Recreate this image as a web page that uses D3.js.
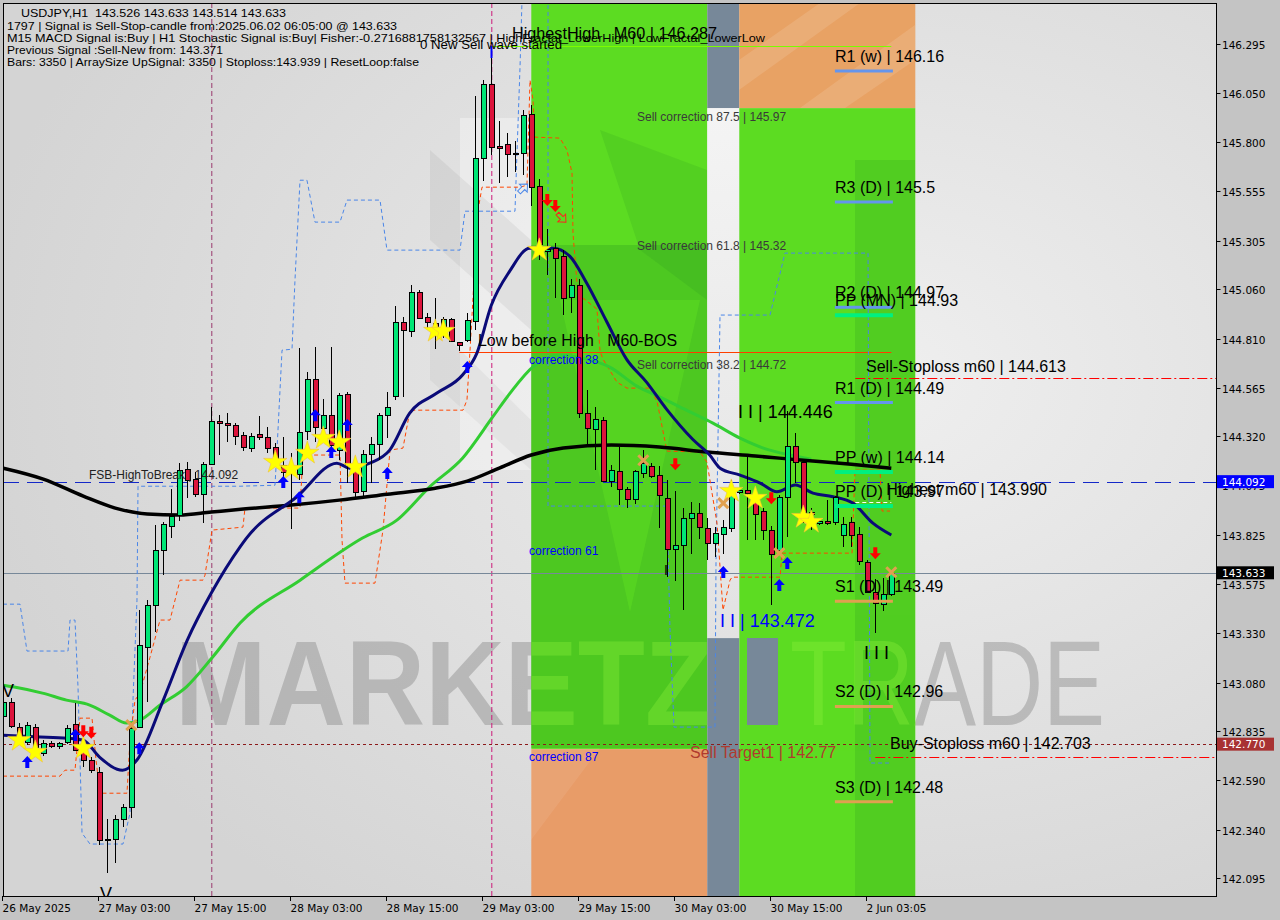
<!DOCTYPE html>
<html><head><meta charset="utf-8">
<script src="https://cdn.jsdelivr.net/npm/d3@7"></script>
<style>html,body{margin:0;padding:0;background:#c4c4c4;}svg{display:block}text{white-space:pre}</style>
</head><body>
<svg id="c" width="1280" height="920"></svg>
<script>
// ---------- DATA ----------
const symbol = "USDJPY,H1";
const timeLabels = ["26 May 2025","27 May 03:00","27 May 15:00","28 May 03:00","28 May 15:00","29 May 03:00","29 May 15:00","30 May 03:00","30 May 15:00","2 Jun 03:05"];
const timeLabelIdx = [0,12,24,36,48,60,72,84,96,108];
const priceTicks = [146.295,146.050,145.800,145.555,145.305,145.060,144.810,144.565,144.320,144.075,143.825,143.575,143.330,143.080,142.835,142.590,142.340,142.095];

const opens = [
142.911,142.982,142.857,142.782,142.857,142.726,142.777,142.757,142.777,142.871,
142.765,142.690,142.630,142.287,142.291,142.391,142.452,142.857,143.260,143.470,
143.744,143.870,143.923,144.154,144.103,144.028,144.180,144.397,144.388,144.377,
144.326,144.264,144.331,144.315,144.267,144.175,144.140,144.134,144.343,144.607,
144.363,144.430,144.251,144.531,144.167,144.041,144.229,144.280,144.427,144.519,
144.894,144.850,145.048,144.919,144.892,144.855,144.909,144.793,144.805,144.897,
145.724,146.096,145.780,145.790,145.744,145.746,145.942,145.580,145.252,145.268,
145.229,145.023,145.084,144.439,144.362,144.404,144.096,144.144,144.053,144.001,
144.140,144.173,144.124,144.011,143.754,143.774,143.908,143.934,143.860,143.781,
143.831,143.856,144.040,144.050,143.991,143.944,143.851,143.747,144.013,144.271,
144.192,143.940,143.882,143.892,143.885,143.821,143.890,143.826,143.688,143.534,
143.475,143.526];
const highs = [
143.000,143.002,142.875,142.882,142.872,142.790,142.787,142.782,142.866,142.977,
142.775,142.707,142.656,142.391,142.413,142.468,142.866,143.445,143.495,143.873,
143.890,144.054,144.187,144.192,144.140,144.192,144.469,144.427,144.438,144.387,
144.343,144.338,144.422,144.368,144.287,144.318,144.236,144.763,144.642,144.771,
144.506,144.768,144.536,144.541,144.184,144.251,144.318,144.436,144.541,144.976,
144.919,145.082,145.056,144.942,145.015,144.922,144.914,144.796,144.942,146.035,
146.114,146.287,145.908,145.850,145.807,145.965,145.990,145.614,145.364,145.296,
145.258,145.113,145.113,144.555,144.467,144.420,144.178,144.265,144.063,144.150,
144.250,144.188,144.169,144.100,144.043,143.961,143.990,143.987,143.907,143.864,
143.897,144.100,144.060,144.217,144.033,143.960,143.870,144.024,144.446,144.335,
144.200,143.957,143.900,143.999,144.020,143.915,143.915,143.864,143.697,143.600,
143.605,143.633];
const lows = [
142.900,142.850,142.770,142.765,142.740,142.710,142.750,142.744,142.772,142.735,
142.656,142.626,142.262,142.119,142.170,142.354,142.398,142.850,142.983,143.336,
143.621,143.809,143.895,144.008,144.013,143.882,144.175,144.226,144.292,144.276,
144.247,144.243,144.301,144.234,144.184,144.116,143.856,144.100,144.301,144.293,
144.318,144.209,144.200,144.083,144.008,144.003,144.086,144.200,144.310,144.503,
144.519,144.821,144.914,144.864,144.758,144.813,144.796,144.751,144.796,144.855,
145.605,145.739,145.595,145.624,145.653,145.634,145.480,145.210,145.132,145.017,
144.930,144.940,144.415,144.265,144.150,144.092,144.063,143.976,143.961,143.980,
144.111,144.111,143.861,143.610,143.590,143.446,143.726,143.802,143.697,143.714,
143.730,143.839,144.030,143.797,143.797,143.797,143.472,143.730,143.815,144.083,
143.882,143.848,143.876,143.876,143.876,143.764,143.764,143.672,143.530,143.328,
143.442,143.514];
const closes = [
142.982,142.861,142.807,142.866,142.757,142.774,142.760,142.774,142.850,142.740,
142.690,142.640,142.287,142.290,142.391,142.452,142.850,143.269,143.470,143.747,
143.877,143.918,144.150,144.100,144.028,144.180,144.397,144.385,144.377,144.321,
144.264,144.323,144.315,144.262,144.200,144.142,144.150,144.343,144.607,144.365,
144.430,144.280,144.528,144.180,144.041,144.229,144.281,144.427,144.469,144.894,
144.855,145.048,144.919,144.894,144.859,144.909,144.796,144.776,144.905,145.720,
146.096,145.778,145.770,145.739,145.748,145.938,145.576,145.287,145.263,145.219,
145.017,145.084,144.439,144.362,144.410,144.096,144.150,144.053,144.001,144.144,
144.188,144.124,144.024,143.754,143.774,143.908,143.934,143.866,143.783,143.831,
143.864,144.033,144.050,144.034,143.932,143.848,143.731,144.016,144.271,144.192,
143.940,143.930,143.892,143.882,144.013,143.878,143.823,143.688,143.537,143.479,
143.526,143.633];

// moving averages: [barIndex, price]
const maSlow = [[0,144.160],[5,144.105],[10,144.019],[14,143.959],[18,143.929],[22,143.924],[26,143.939],[30,143.954],[36,143.974],[42,143.999],[48,144.029],[54,144.059],[58,144.095],[62,144.160],[66,144.226],[70,144.261],[76,144.276],[82,144.266],[88,144.241],[94,144.221],[100,144.200],[106,144.180],[111,144.160]];
const maFast = [[0,142.815],[4,142.807],[8,142.800],[10,142.790],[12,142.706],[14.9,142.639],[16.7,142.690],[20,142.992],[23,143.294],[26,143.531],[29.6,143.764],[30.4,143.808],[36.7,144.016],[41.7,144.185],[43.3,144.160],[45.8,144.185],[48.3,144.251],[50.8,144.437],[54.2,144.538],[57.4,144.629],[59.2,144.739],[61,144.980],[63.3,145.152],[65.8,145.268],[68.7,145.268],[70.8,145.228],[72.9,145.094],[75.4,144.900],[77.9,144.709],[80.4,144.593],[82.9,144.457],[86.2,144.304],[88.3,144.226],[89.6,144.160],[92.1,144.125],[94.6,144.085],[96.7,144.041],[99,144.075],[101.2,144.034],[103.7,144.016],[106.2,143.984],[108.7,143.883],[111,143.823]];
const maMid = [[0,143.067],[1.2,143.059],[4.9,143.027],[7.9,142.992],[10.8,142.967],[13.3,142.916],[15.4,142.876],[17.1,142.891],[19.6,142.967],[22.9,143.059],[26.2,143.210],[29.6,143.380],[37.1,143.596],[44.9,143.808],[49.2,143.898],[53.3,144.066],[57.4,144.210],[61.2,144.419],[63.3,144.535],[66.2,144.670],[69.6,144.729],[72.9,144.709],[75.8,144.669],[79.2,144.573],[82.1,144.518],[85.4,144.452],[88.7,144.387],[92.1,144.311],[95,144.261],[98.3,144.226],[101,144.205]];

// step channels: [barIndex, price]
const blueChannel = [[-0.04,143.475],[2.09,143.475],[2.96,143.239],[8.09,143.239],[8.34,143.395],[8.96,143.395],[9.34,143.057],[9.84,142.322],[10.84,142.267],[14.96,142.267],[15.84,142.423],[16.21,142.992],[16.71,143.495],[16.84,144.069],[29.59,144.069],[33.96,144.074],[34.21,144.251],[34.84,144.754],[36.09,144.759],[36.46,145.107],[37.09,145.610],[37.96,145.610],[38.96,145.399],[42.09,145.399],[42.96,145.510],[47.09,145.510],[47.96,145.258],[57.09,145.258],[57.71,145.454],[63.96,145.454],[64.21,145.746],[64.59,146.180],[64.84,146.517],[65.1,146.620],[67.84,146.620],[68.09,146.517],[68.09,143.969],[82.96,143.969],[83.34,143.344],[83.84,142.856],[88.96,142.856],[89.09,143.697],[89.59,144.931],[95.84,144.931],[97.71,145.243],[108.09,145.243],[108.34,142.675],[110.71,142.675]];
const orangeChannel = [[-0.04,142.609],[7.09,142.609],[7.71,142.639],[8.96,142.639],[9.59,142.901],[11.09,142.901],[11.59,142.690],[12.09,142.523],[15.46,142.523],[15.84,142.790],[16.46,142.992],[17.09,143.027],[18.34,143.208],[19.59,143.395],[20.84,143.395],[22.09,143.596],[24.96,143.596],[25.21,143.621],[26.09,143.848],[29.96,143.863],[30.21,143.959],[37.09,143.959],[37.46,144.226],[42.09,144.226],[42.34,143.798],[42.71,143.581],[46.46,143.581],[47.46,143.848],[48.34,144.251],[49.96,144.261],[50.84,144.452],[57.46,144.452],[57.96,144.503],[58.34,144.754],[59.34,145.459],[59.84,145.575],[64.59,145.575],[65.46,145.585],[65.84,146.114],[66.21,146.013],[66.46,145.827],[69.59,145.822],[70.46,145.762],[71.09,145.646],[71.21,145.344],[71.71,145.092],[72.46,145.016],[74.21,144.961],[74.59,144.749],[74.96,144.709],[76.71,144.593],[77.96,144.563],[80.84,144.563],[81.71,144.498],[82.96,144.246],[87.09,144.241],[87.96,144.190],[89.21,143.883],[89.59,143.662],[89.96,143.445],[90.84,143.596],[91.09,143.611],[97.09,143.611],[97.34,143.732],[106.09,143.732],[106.46,144.150],[109.59,144.150],[109.84,143.944],[110.84,143.944]];

// signal markers: [barIndex, price]
const starSignals = [[2,142.790],[4,142.730],[10,142.750],[34,144.190],[36,144.155],[38,144.236],[40,144.311],[42,144.291],[44,144.165],[54,144.850],[55,144.850],[67,145.258],[91,144.044],[94,144.009],[100,143.913],[101,143.888]];
const buyArrows = [[3,142.680],[9,142.816],[17,142.750],[35,144.090],[37,144.014],[39,144.427],[41,144.241],[43,144.377],[48,144.135],[58,144.669],[90,143.637],[98,143.682],[97,143.571]];
const sellArrows = [[10,142.835],[11,142.828],[68,145.510],[69,145.480],[84,144.180],[96,144.009],[109,143.732]];
const crossSignals = [[16,142.866],[80,144.200],[90,143.984],[97,143.732],[111,143.636]];

// pivot levels
const pivotNames = ["R1 (w)","R3 (D)","R2 (D)","PP (MN)","R1 (D)","PP (w)","PP (D)","S1 (D)","S2 (D)","S3 (D)"];
const pivotValues = [146.16,145.5,144.97,144.93,144.49,144.14,143.97,143.49,142.96,142.48];
const pivotText = ["146.16","145.5","144.97","144.93","144.49","144.14","143.97","143.49","142.96","142.48"];

// zones
const zoneEdges = [66,88,92,114];
const zoneLevels = [145.973,143.304,142.745];

// key levels
const fsbLevel = 144.092, lastPrice = 143.633, sellTarget = 142.77, sellStop = 144.613, buyStop = 142.703;
const highestHigh = 146.287, lowBeforeHigh = 144.747, highestM60 = 143.990;
const sellCorrNames = ["Sell correction 87.5 | 145.97","Sell correction 61.8 | 145.32","Sell correction 38.2 | 144.72"];
const sellCorrValues = [145.97,145.32,144.72];
const corrNames = ["correction 38","correction 61","correction 87"];
const corrValues = [144.704,143.742,142.705];
const headerLines = [
 "USDJPY,H1  143.526 143.633 143.514 143.633",
 "1797 | Signal is Sell-Stop-candle from:2025.06.02 06:05:00 @ 143.633",
 "M15 MACD Signal is:Buy | H1 Stochastic Signal is:Buy| Fisher:-0.2716881758132567 | HighFractal_LowerHigh | LowFractal_LowerLow",
 "Previous Signal :Sell-New from: 143.371",
 "Bars: 3350 | ArraySize UpSignal: 3350 | Stoploss:143.939 | ResetLoop:false"];

// ---------- DRAW ----------
const PL=3, PR=1216, PT=3, PB=896;
const x = d3.scaleLinear().domain([0,151.5]).range([3.3,1215.3]);
const y = d3.scaleLinear().domain([142.095,146.295]).range([878.2,44.2]);
const svg = d3.select('#c');
const defs = svg.append('defs');
const rg = defs.append('radialGradient').attr('id','bg').attr('cx','0.72').attr('cy','0.42').attr('r','0.75');
rg.append('stop').attr('offset','0').attr('stop-color','#efefef');
rg.append('stop').attr('offset','1').attr('stop-color','#d4d4d4');
const wg = defs.append('linearGradient').attr('id','wcol').attr('x1','0').attr('y1','0').attr('x2','0').attr('y2','1');
wg.append('stop').attr('offset','0').attr('stop-color','#f4f4f4');
wg.append('stop').attr('offset','1').attr('stop-color','#e2e2e2');
defs.append('clipPath').attr('id','plot').append('rect').attr('x',PL).attr('y',PT).attr('width',PR-PL).attr('height',PB-PT);
const gcp = defs.append('clipPath').attr('id','greenz');

svg.append('rect').attr('width',1280).attr('height',920).attr('fill','#c4c4c4');
svg.append('rect').attr('x',PL).attr('y',PT).attr('width',PR-PL).attr('height',PB-PT).attr('fill','url(#bg)');

const g = svg.append('g').attr('clip-path','url(#plot)');

// watermark background shapes (gray logo)
g.append('rect').attr('x',460).attr('y',118).attr('width',71).attr('height',352).attr('fill','#ffffff').attr('opacity',0.35);
g.append('path').attr('d','M430,150 L531,240 L531,330 L430,240 Z').attr('fill','#000').attr('opacity',0.05);
g.append('path').attr('d','M430,320 L531,420 L531,470 L430,380 Z').attr('fill','#000').attr('opacity',0.04);

const wm = (sel, fill, op) => {
  sel.append('text').attr('x',175).attr('y',725).attr('font-family','Liberation Sans, Arial, sans-serif').attr('font-weight','bold')
    .attr('font-size',121).attr('textLength',537).attr('lengthAdjust','spacingAndGlyphs').attr('fill',fill).attr('opacity',op).text('MARKETZ');
  sel.append('text').attr('x',790).attr('y',725).attr('font-family','Liberation Sans, Arial, sans-serif').attr('font-weight','normal')
    .attr('font-size',121).attr('textLength',315).attr('lengthAdjust','spacingAndGlyphs').attr('fill',fill).attr('opacity',op).text('TRADE');
};
wm(g, '#8c8c8c', 0.45);

// zones
const yL0 = y(zoneLevels[0]), yL1 = y(zoneLevels[1]), yL2 = y(zoneLevels[2]);
const GREEN = '#5cdc22', ORANGE = '#e89c68', SLATE = '#778899';
g.append('rect').attr('x',x(zoneEdges[0])).attr('y',PT).attr('width',x(zoneEdges[1])-x(zoneEdges[0])).attr('height',yL2-PT).attr('fill',GREEN);
g.append('rect').attr('x',x(zoneEdges[0])).attr('y',yL2).attr('width',x(zoneEdges[1])-x(zoneEdges[0])).attr('height',PB-yL2).attr('fill',ORANGE);
g.append('rect').attr('x',x(zoneEdges[1])).attr('y',PT).attr('width',x(zoneEdges[2])-x(zoneEdges[1])).attr('height',yL0-PT).attr('fill',SLATE);
g.append('rect').attr('x',x(zoneEdges[1])).attr('y',yL0).attr('width',x(zoneEdges[2])-x(zoneEdges[1])).attr('height',yL1-yL0).attr('fill','url(#wcol)');
g.append('rect').attr('x',x(zoneEdges[1])).attr('y',yL1).attr('width',x(zoneEdges[2])-x(zoneEdges[1])).attr('height',PB-yL1).attr('fill',SLATE);
g.append('rect').attr('x',x(zoneEdges[2])).attr('y',PT).attr('width',x(zoneEdges[3])-x(zoneEdges[2])).attr('height',yL0-PT).attr('fill','#e8a264');
g.append('rect').attr('x',x(zoneEdges[2])).attr('y',yL0).attr('width',x(zoneEdges[3])-x(zoneEdges[2])).attr('height',PB-yL0).attr('fill',GREEN);
gcp.append('rect').attr('x',x(zoneEdges[0])).attr('y',PT).attr('width',x(zoneEdges[1])-x(zoneEdges[0])).attr('height',yL2-PT);
gcp.append('rect').attr('x',x(zoneEdges[2])).attr('y',yL0).attr('width',x(zoneEdges[3])-x(zoneEdges[2])).attr('height',PB-yL0);

// zone textures
g.append('path').attr('d','M531,245 L707,245 L707,748 L531,748 Z').attr('fill','#157a20').attr('opacity',0.2);
g.append('path').attr('d','M560,300 L700,300 L630,612 Z').attr('fill','#5cdc22').attr('opacity',0.55);
g.append('path').attr('d','M600,130 L707,170 L707,300 L640,250 Z').attr('fill','#157a20').attr('opacity',0.12);
g.append('path').attr('d','M531,748 L600,748 L531,840 Z').attr('fill','#ffffff').attr('opacity',0.08);
g.append('rect').attr('x',855).attr('y',160).attr('width',60).attr('height',736).attr('fill','#157a20').attr('opacity',0.15);
g.append('path').attr('d','M739,60 L820,3 L860,3 L739,90 Z').attr('fill','#ffffff').attr('opacity',0.12);
g.append('path').attr('d','M800,108 L915,25 L915,60 L845,108 Z').attr('fill','#ffffff').attr('opacity',0.12);
g.append('rect').attr('x',747).attr('y',638).attr('width',31).attr('height',87).attr('fill',SLATE);
const gw = g.append('g').attr('clip-path','url(#greenz)');
wm(gw, '#8cf03a', 0.35);

// vertical dashed lines
g.append('line').attr('x1',x(26)+0.5).attr('x2',x(26)+0.5).attr('y1',PT).attr('y2',PB).attr('stroke','#9a3a6e').attr('stroke-dasharray','5,3').attr('stroke-width',1);
g.append('line').attr('x1',x(61)+0.5).attr('x2',x(61)+0.5).attr('y1',PT).attr('y2',PB).attr('stroke','#cc1a7a').attr('stroke-dasharray','5,3').attr('stroke-width',1);

// horizontal levels
const hline = (v, x1, x2, col, dash, w) => g.append('line').attr('x1',x1).attr('x2',x2)
  .attr('y1',Math.round(y(v))+0.5).attr('y2',Math.round(y(v))+0.5).attr('stroke',col).attr('stroke-width',w||1).attr('stroke-dasharray',dash||null);
hline(lastPrice, PL, PR, '#778899');
hline(sellTarget, PL, PR, '#8b1a1a', '3,3');
hline(fsbLevel, PL, PR, '#1428c8', '16,8');
hline(sellStop, x(106.5), PR, '#ff0000', '10,3,2,3');
hline(buyStop, x(109), PR, '#ff0000', '10,3,2,3');
hline(lowBeforeHigh, x(57), x(111), '#ff3c00');
hline(highestHigh, x(61), x(111), '#7cfc00');
hline(highestM60, x(106.5), x(111), '#ffffff', '4,3');

// channels
const lineGen = d3.line().x(d=>x(d[0])).y(d=>y(d[1]));
g.append('path').attr('d',lineGen(blueChannel)).attr('fill','none').attr('stroke','#4a86e8').attr('stroke-width',1).attr('stroke-dasharray','4,3');
g.append('path').attr('d',lineGen(orangeChannel)).attr('fill','none').attr('stroke','#ff4500').attr('stroke-width',1).attr('stroke-dasharray','4,3');

// moving averages
const maGen = d3.line().x(d=>x(d[0])).y(d=>y(d[1])).curve(d3.curveMonotoneX);
g.append('path').attr('d',maGen(maMid)).attr('fill','none').attr('stroke','#32cd32').attr('stroke-width',3);
g.append('path').attr('d',maGen(maSlow)).attr('fill','none').attr('stroke','#000000').attr('stroke-width',3.5);
g.append('path').attr('d',maGen(maFast)).attr('fill','none').attr('stroke','#0a0a78').attr('stroke-width',3);

// candles
const candles = d3.range(opens.length).map(i=>({i,o:opens[i],h:highs[i],l:lows[i],c:closes[i]}));
const cg = g.append('g').attr('shape-rendering','crispEdges');
cg.selectAll('line.w').data(candles).join('line').attr('class','w')
  .attr('x1',d=>Math.round(x(d.i))+0.5).attr('x2',d=>Math.round(x(d.i))+0.5)
  .attr('y1',d=>y(d.h)).attr('y2',d=>y(d.l)).attr('stroke','#000').attr('stroke-width',1);
cg.selectAll('rect.b').data(candles).join('rect').attr('class','b')
  .attr('x',d=>Math.round(x(d.i))-2).attr('width',5)
  .attr('y',d=>Math.round(y(Math.max(d.o,d.c))))
  .attr('height',d=>Math.max(1,Math.round(Math.abs(y(d.o)-y(d.c)))))
  .attr('fill',d=>d.c>=d.o?'#00e676':'#dc143c').attr('stroke','#000').attr('stroke-width',1);
// blue tip on top bar
g.append('line').attr('x1',Math.round(x(61))+0.5).attr('x2',Math.round(x(61))+0.5).attr('y1',y(highestHigh)).attr('y2',y(146.225)).attr('stroke','#0000ff').attr('stroke-width',2);

// markers
const star = d3.symbol().type(d3.symbolStar).size(170);
g.selectAll('path.st').data(starSignals).join('path').attr('class','st').attr('d',star)
  .attr('transform',d=>`translate(${x(d[0])},${y(d[1])})`).attr('fill','#ffff00').attr('stroke','#f0c040').attr('stroke-width',0.6);
const upA = 'M0,-6 L5.5,0 L2,0 L2,6 L-2,6 L-2,0 L-5.5,0 Z';
g.selectAll('path.ua').data(buyArrows).join('path').attr('class','ua').attr('d',upA)
  .attr('transform',d=>`translate(${x(d[0])},${y(d[1])})`).attr('fill','#0000ff');
g.selectAll('path.da').data(sellArrows).join('path').attr('class','da').attr('d',upA)
  .attr('transform',d=>`translate(${x(d[0])},${y(d[1])}) rotate(180)`).attr('fill','#ff0000');
g.selectAll('path.cx').data(crossSignals).join('path').attr('class','cx').attr('d','M-5,-5 L5,5 M5,-5 L-5,5')
  .attr('transform',d=>`translate(${x(d[0])},${y(d[1])})`).attr('stroke','#e0a050').attr('stroke-width',3);
g.append('path').attr('d',upA).attr('transform',`translate(${x(65)},${y(145.57)}) rotate(45)`).attr('fill','none').attr('stroke','#4a86e8');
g.append('path').attr('d',upA).attr('transform',`translate(${x(69.8)},${y(145.42)}) rotate(135)`).attr('fill','none').attr('stroke','#ff2020');

// pivots
const pivCol = n => n.startsWith('PP') ? '#00f080' : (n.startsWith('R') ? '#6495ed' : '#e0a050');
pivotNames.forEach((n,k)=>{
  const yy = y(pivotValues[k]);
  g.append('line').attr('x1',x(103.95)).attr('x2',x(111.2)).attr('y1',yy).attr('y2',yy).attr('stroke',pivCol(n)).attr('stroke-width',n.startsWith('PP')?4:3);
});
const F = 'Liberation Sans, Arial, sans-serif';
const txt = (t, xx, yy, size, col, opts={}) => {
  const e = g.append('text').attr('x',xx).attr('y',yy).attr('font-family',F).attr('font-size',size).attr('fill',col).text(t);
  if (opts.len) e.attr('textLength',opts.len).attr('lengthAdjust','spacingAndGlyphs');
  if (opts.anchor) e.attr('text-anchor',opts.anchor);
  return e;
};
pivotNames.forEach((n,k)=>{ txt(`${n} | ${pivotText[k]}`, 835, y(pivotValues[k]) - 9, 16, '#000'); });

// other annotations
sellCorrNames.forEach((t,k)=> txt(t, 637, y(sellCorrValues[k]) + 12, 12, '#3a3a3a'));
corrNames.forEach((t,k)=> txt(t, 529, y(corrValues[k]) + 4, 12, '#0000ff'));
txt('Low before High   M60-BOS', 478, y(lowBeforeHigh) - 6, 16, '#000', {len:199});
txt('0 New Sell wave started', 420, 49, 13, '#000', {len:142});
txt('HighestHigh   M60 | ' + highestHigh.toFixed(3), 512, 39, 16, '#000', {len:205});
txt('Sell-Stoploss m60 | ' + sellStop.toFixed(3), 866, y(sellStop) - 6, 16, '#000');
txt('Buy-Stoploss m60 | ' + buyStop.toFixed(3), 890, y(buyStop) - 8, 16, '#000');
txt('Sell Target1 | ' + sellTarget.toFixed(2), 690, y(sellTarget) + 14, 16, '#b03a2e');
txt('Highest m60 | ' + highestM60.toFixed(3), 1047, y(highestM60) - 7, 16, '#000', {anchor:'end'});
txt('I I | 144.446', 738, y(144.446) + 7, 18, '#000');
txt('I I | 143.472', 720, y(143.472) + 22, 18, '#0000ff');
txt('I I I', 864, y(143.472) + 54, 18, '#000');
txt('I', 664, y(143.633) + 2, 14, '#000');
txt('FSB-HighToBreak | ' + fsbLevel.toFixed(3), 89, y(fsbLevel) - 3, 12, '#222');
txt('V', 2, y(143.067) + 12, 18, '#000');
txt('V', 100, 900, 18, '#000');

// header
const hx = [21,7,7,7,7], hy = [17,30,42,54,66], hl = [265,390,758,216,412];
headerLines.forEach((t,k)=> txt(t, hx[k], hy[k], 11.5, '#000', {len:hl[k]}));

// frame
svg.append('rect').attr('x',PL+0.5).attr('y',PT+0.5).attr('width',PR-PL).attr('height',PB-PT).attr('fill','none').attr('stroke','#000').attr('stroke-width',1);

// price axis
const ax = svg.append('g');
priceTicks.forEach(v=>{
  const yy = Math.round(y(v))+0.5;
  ax.append('line').attr('x1',PR+0.5).attr('x2',PR+4.5).attr('y1',yy).attr('y2',yy).attr('stroke','#000');
  ax.append('text').attr('x',1222).attr('y',yy+4).attr('font-family','DejaVu Sans, sans-serif').attr('font-size',10.5).attr('fill','#000').text(v.toFixed(3));
});
const boxes = [[fsbLevel,'#0000ff'],[lastPrice,'#000000'],[sellTarget,'#a83232']];
boxes.forEach(b=>{
  const yy = y(b[0]);
  ax.append('rect').attr('x',1217).attr('y',yy-6.5).attr('width',57).attr('height',13).attr('fill',b[1]);
  ax.append('text').attr('x',1222).attr('y',yy+4).attr('font-family','DejaVu Sans, sans-serif').attr('font-size',10.5).attr('fill','#fff').text(b[0].toFixed(3));
});

// time axis
timeLabelIdx.forEach((i,k)=>{
  const xx = Math.round(x(i))-0.5;
  ax.append('line').attr('x1',xx).attr('x2',xx).attr('y1',PB).attr('y2',PB+5).attr('stroke','#000');
  ax.append('text').attr('x',xx).attr('y',912).attr('font-family','DejaVu Sans, sans-serif').attr('font-size',10.5).attr('fill','#000').text(timeLabels[k]);
});
</script>
</body></html>
